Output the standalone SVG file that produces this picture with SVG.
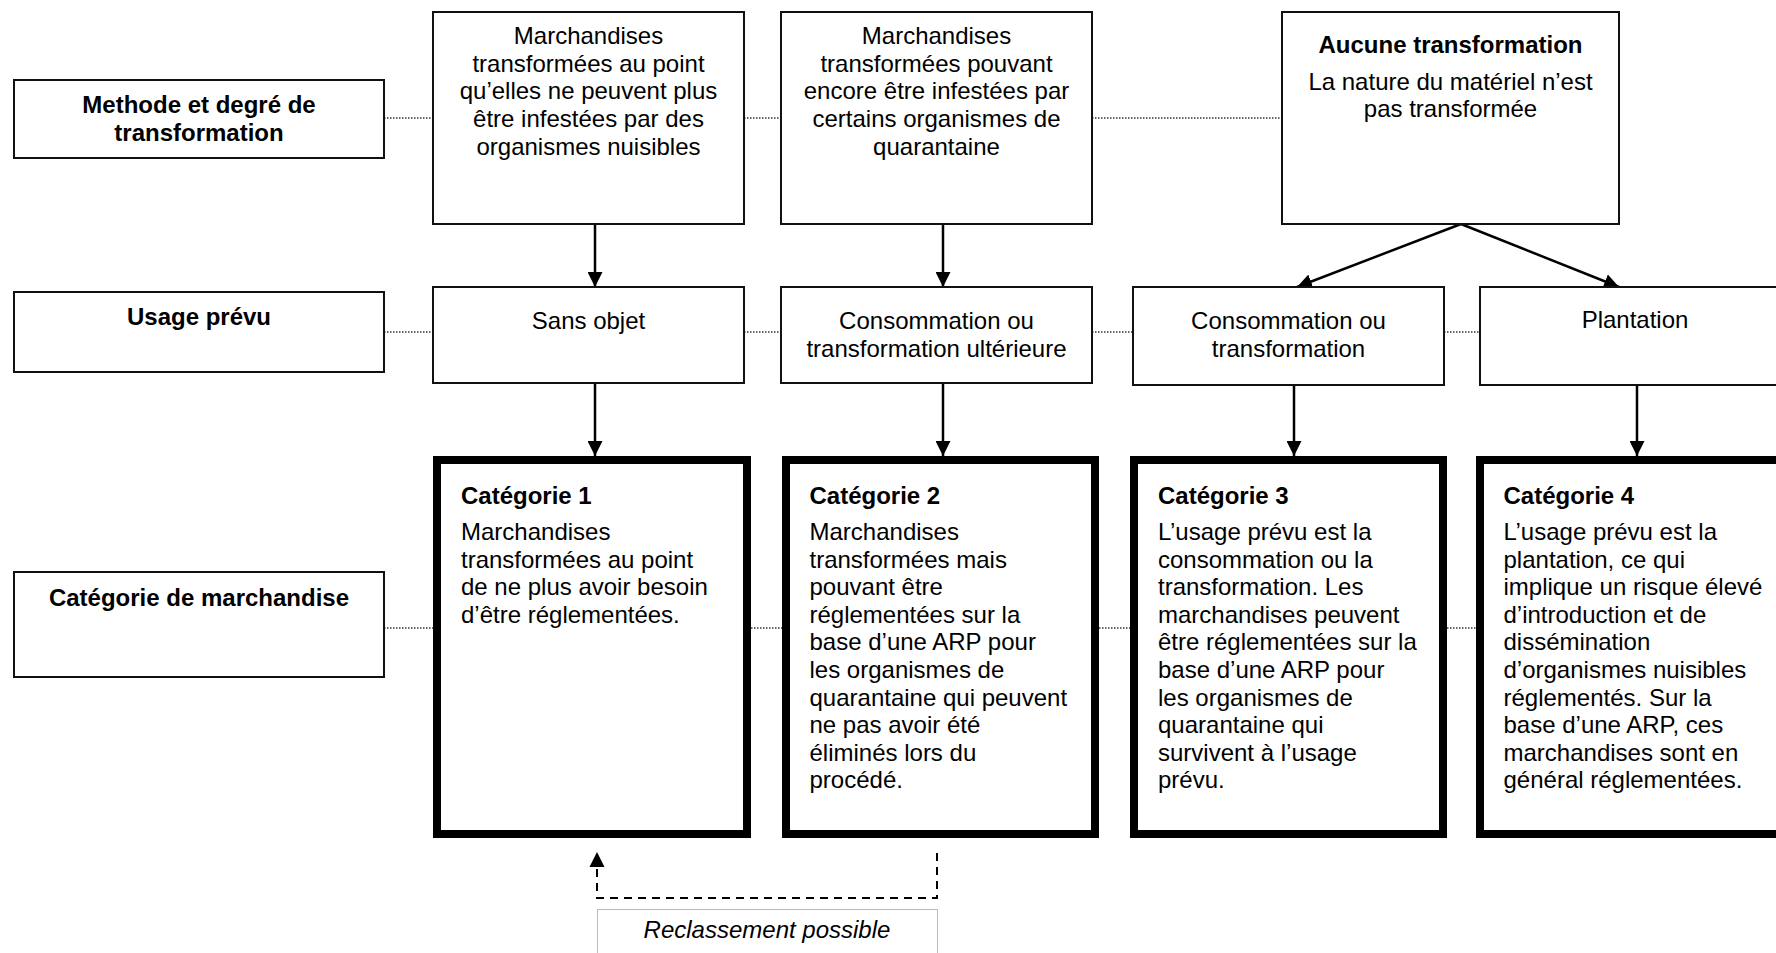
<svg xmlns="http://www.w3.org/2000/svg" width="1776" height="953" viewBox="0 0 1776 953">
<style>
.bg{fill:#fff}
.thin{fill:#fff;stroke:#111;stroke-width:2}
.thick{fill:#fff;stroke:#000;stroke-width:8}
.t{font-family:"Liberation Sans",Arial,sans-serif;font-size:24px;fill:#000}
.b{font-weight:bold}
.c{text-anchor:middle}
.i{font-style:italic}
.arr{stroke:#000;stroke-width:2.5;fill:none;marker-end:url(#ah)}
.dot{stroke:#333;stroke-width:1.5;stroke-dasharray:1.5 1.5;fill:none}
.dash{stroke:#000;stroke-width:2;stroke-dasharray:8 6;fill:none}
.note{fill:#fff;stroke:#777;stroke-width:1;stroke-dasharray:1 1}
</style>
<defs>
<marker id="ah" markerUnits="userSpaceOnUse" markerWidth="15" markerHeight="15" refX="15" refY="7.5" orient="auto">
<path d="M0,0 L15,7.5 L0,15 z" fill="#000"/>
</marker>
</defs>
<rect class="bg" x="0" y="0" width="1776" height="953"/>

<g id="connectors">
<line class="dot" x1="384" y1="118" x2="433" y2="118"/>
<line class="dot" x1="744" y1="118" x2="781" y2="118"/>
<line class="dot" x1="1092" y1="118" x2="1282" y2="118"/>
<line class="dot" x1="384" y1="332" x2="433" y2="332"/>
<line class="dot" x1="744" y1="332" x2="781" y2="332"/>
<line class="dot" x1="1092" y1="332" x2="1133" y2="332"/>
<line class="dot" x1="1444" y1="332" x2="1480" y2="332"/>
<line class="dot" x1="384" y1="628" x2="433" y2="628"/>
<line class="dot" x1="751" y1="628" x2="782" y2="628"/>
<line class="dot" x1="1099" y1="628" x2="1130" y2="628"/>
<line class="dot" x1="1447" y1="628" x2="1476" y2="628"/>
<line class="arr" x1="595" y1="224" x2="595" y2="287"/>
<line class="arr" x1="943" y1="224" x2="943" y2="287"/>
<line class="arr" x1="1461" y1="224" x2="1297" y2="287"/>
<line class="arr" x1="1461" y1="224" x2="1619" y2="287"/>
<line class="arr" x1="595" y1="383" x2="595" y2="456"/>
<line class="arr" x1="943" y1="383" x2="943" y2="456"/>
<line class="arr" x1="1294" y1="385" x2="1294" y2="456"/>
<line class="arr" x1="1637" y1="385" x2="1637" y2="456"/>
<path class="dash" d="M937,853 L937,898 L597,898 L597,868"/>
<path d="M589.5,867 L597,852 L604.5,867 z" fill="#000"/>
</g>

<g id="label-methode">
<rect class="thin" x="14" y="80" width="370" height="78"/>
<text class="t b c" x="199" y="113">Methode et degré de</text>
<text class="t b c" x="199" y="141">transformation</text>
</g>
<g id="label-usage">
<rect class="thin" x="14" y="292" width="370" height="80"/>
<text class="t b c" x="199" y="325">Usage prévu</text>
</g>
<g id="label-categorie">
<rect class="thin" x="14" y="572" width="370" height="105"/>
<text class="t b c" x="199" y="606">Catégorie de marchandise</text>
</g>

<g id="m1">
<rect class="thin" x="433" y="12" width="311" height="212"/>
<text class="t c" x="588.5" y="44">Marchandises</text>
<text class="t c" x="588.5" y="71.7">transformées au point</text>
<text class="t c" x="588.5" y="99.3">qu’elles ne peuvent plus</text>
<text class="t c" x="588.5" y="127">être infestées par des</text>
<text class="t c" x="588.5" y="154.6">organismes nuisibles</text>
</g>
<g id="m2">
<rect class="thin" x="781" y="12" width="311" height="212"/>
<text class="t c" x="936.5" y="44">Marchandises</text>
<text class="t c" x="936.5" y="71.7">transformées pouvant</text>
<text class="t c" x="936.5" y="99.3">encore être infestées par</text>
<text class="t c" x="936.5" y="127">certains organismes de</text>
<text class="t c" x="936.5" y="154.6">quarantaine</text>
</g>
<g id="m3">
<rect class="thin" x="1282" y="12" width="337" height="212"/>
<text class="t b c" x="1450.5" y="53">Aucune transformation</text>
<text class="t c" x="1450.5" y="89.5">La nature du matériel n’est</text>
<text class="t c" x="1450.5" y="117">pas transformée</text>
</g>

<g id="u1">
<rect class="thin" x="433" y="287" width="311" height="96"/>
<text class="t c" x="588.5" y="329">Sans objet</text>
</g>
<g id="u2">
<rect class="thin" x="781" y="287" width="311" height="96"/>
<text class="t c" x="936.5" y="329">Consommation ou</text>
<text class="t c" x="936.5" y="356.6">transformation ultérieure</text>
</g>
<g id="u3">
<rect class="thin" x="1133" y="287" width="311" height="98"/>
<text class="t c" x="1288.5" y="329">Consommation ou</text>
<text class="t c" x="1288.5" y="356.6">transformation</text>
</g>
<g id="u4">
<rect class="thin" x="1480" y="287" width="311" height="98"/>
<text class="t c" x="1635" y="328">Plantation</text>
</g>

<g id="cat1">
<rect class="thick" x="437" y="460" width="310" height="374"/>
<text class="t b" x="461" y="503.5">Catégorie 1</text>
<text class="t" x="461" y="540">Marchandises</text>
<text class="t" x="461" y="567.6">transformées au point</text>
<text class="t" x="461" y="595.2">de ne plus avoir besoin</text>
<text class="t" x="461" y="622.8">d’être réglementées.</text>
</g>
<g id="cat2">
<rect class="thick" x="786" y="460" width="309" height="374"/>
<text class="t b" x="809.5" y="503.5">Catégorie 2</text>
<text class="t" x="809.5" y="540">Marchandises</text>
<text class="t" x="809.5" y="567.6">transformées mais</text>
<text class="t" x="809.5" y="595.2">pouvant être</text>
<text class="t" x="809.5" y="622.8">réglementées sur la</text>
<text class="t" x="809.5" y="650.4">base d’une ARP pour</text>
<text class="t" x="809.5" y="678">les organismes de</text>
<text class="t" x="809.5" y="705.6">quarantaine qui peuvent</text>
<text class="t" x="809.5" y="733.2">ne pas avoir été</text>
<text class="t" x="809.5" y="760.8">éliminés lors du</text>
<text class="t" x="809.5" y="788.4">procédé.</text>
</g>
<g id="cat3">
<rect class="thick" x="1134" y="460" width="309" height="374"/>
<text class="t b" x="1158" y="503.5">Catégorie 3</text>
<text class="t" x="1158" y="540">L’usage prévu est la</text>
<text class="t" x="1158" y="567.6">consommation ou la</text>
<text class="t" x="1158" y="595.2">transformation. Les</text>
<text class="t" x="1158" y="622.8">marchandises peuvent</text>
<text class="t" x="1158" y="650.4">être réglementées sur la</text>
<text class="t" x="1158" y="678">base d’une ARP pour</text>
<text class="t" x="1158" y="705.6">les organismes de</text>
<text class="t" x="1158" y="733.2">quarantaine qui</text>
<text class="t" x="1158" y="760.8">survivent à l’usage</text>
<text class="t" x="1158" y="788.4">prévu.</text>
</g>
<g id="cat4">
<rect class="thick" x="1480" y="460" width="310" height="374"/>
<text class="t b" x="1503.5" y="503.5">Catégorie 4</text>
<text class="t" x="1503.5" y="540">L’usage prévu est la</text>
<text class="t" x="1503.5" y="567.6">plantation, ce qui</text>
<text class="t" x="1503.5" y="595.2">implique un risque élevé</text>
<text class="t" x="1503.5" y="622.8">d’introduction et de</text>
<text class="t" x="1503.5" y="650.4">dissémination</text>
<text class="t" x="1503.5" y="678">d’organismes nuisibles</text>
<text class="t" x="1503.5" y="705.6">réglementés. Sur la</text>
<text class="t" x="1503.5" y="733.2">base d’une ARP, ces</text>
<text class="t" x="1503.5" y="760.8">marchandises sont en</text>
<text class="t" x="1503.5" y="788.4">général réglementées.</text>
</g>

<g id="reclassement">
<rect class="note" x="597.5" y="909.5" width="340" height="60"/>
<text class="t i c" x="767" y="938">Reclassement possible</text>
</g>
</svg>
